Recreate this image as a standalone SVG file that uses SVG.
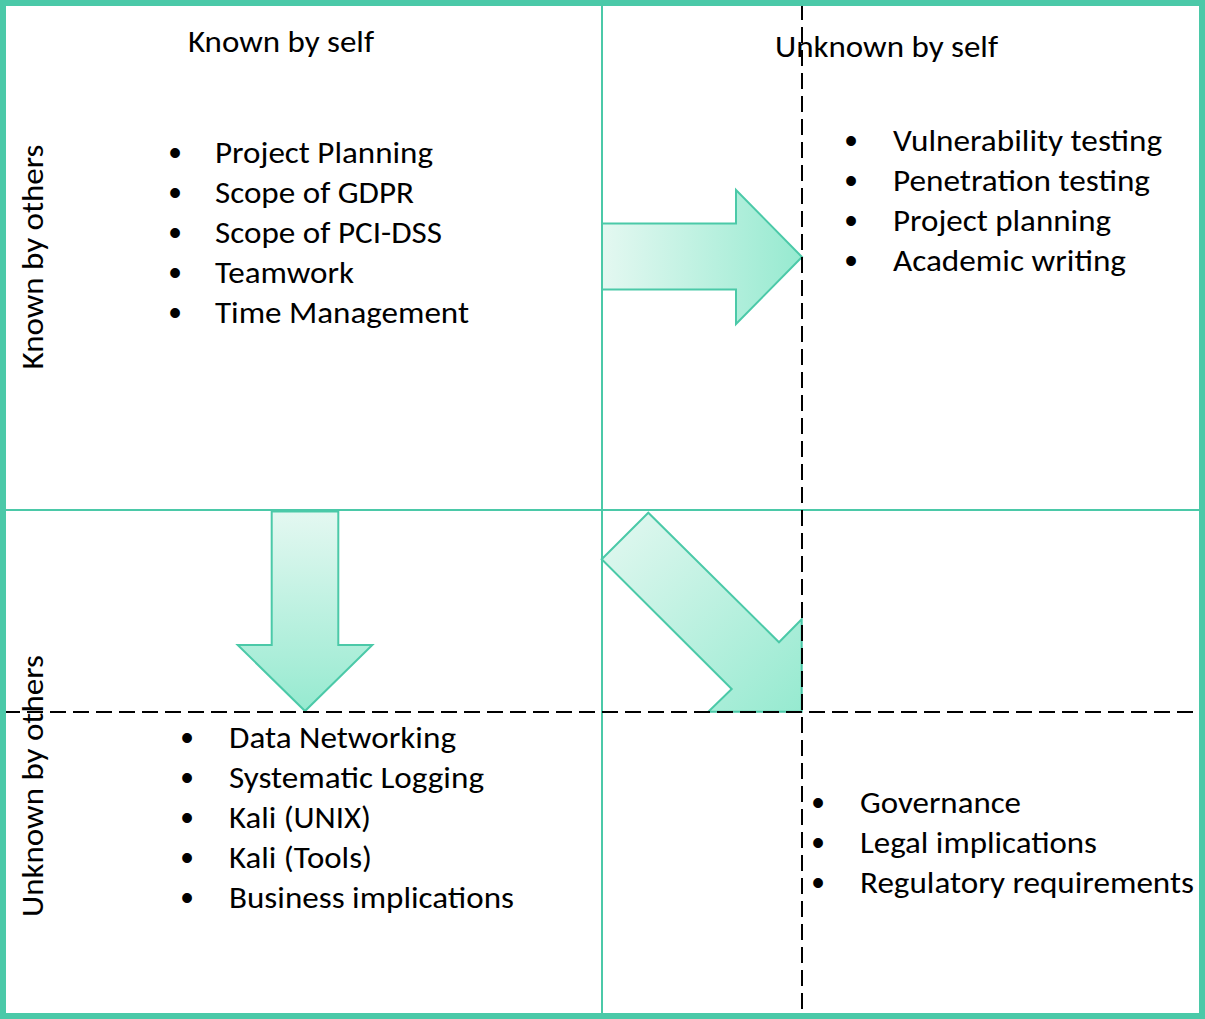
<svg xmlns="http://www.w3.org/2000/svg" width="1205" height="1019" viewBox="0 0 1205 1019">
<style>
.t{font-family:Carlito,Calibri,Lato,"Liberation Sans",sans-serif;font-size:30.5px;fill:#000}
.b{font-family:"Liberation Sans",Arial,sans-serif;font-size:36px;fill:#000;text-anchor:middle}
.grid{stroke:#4bc9a8;stroke-width:2;fill:none}
.dash{stroke:#000;stroke-width:2;stroke-dasharray:16 7;fill:none}
.arrow{stroke:#4bc9a8;stroke-width:2;stroke-linejoin:miter}
</style>
<defs>
<linearGradient id="gH" x1="0" y1="0" x2="1" y2="0"><stop offset="0" stop-color="#e4f8f1"/><stop offset="1" stop-color="#96ead0"/></linearGradient>
<linearGradient id="gV" x1="0" y1="0" x2="0" y2="1"><stop offset="0" stop-color="#e4f8f1"/><stop offset="1" stop-color="#96ead0"/></linearGradient>
<linearGradient id="gD" x1="0" y1="0" x2="1" y2="1"><stop offset="0" stop-color="#e4f8f1"/><stop offset="1" stop-color="#96ead0"/></linearGradient>
</defs>
<rect x="0" y="0" width="1205" height="1019" fill="#fff"/>
<g id="grid">
<line class="grid" x1="602" y1="0" x2="602" y2="1019"/>
<line class="grid" x1="0" y1="510" x2="1205" y2="510"/>
</g>
<g id="connectors">
<polygon class="arrow" fill="url(#gH)" points="602,223.5 736,223.5 736,190 802,257 736,324 736,289.5 602,289.5"/>
<polygon class="arrow" fill="url(#gV)" points="271.7,511.5 338.3,511.5 338.3,645 372.3,645 305,711 237.7,645 271.7,645"/>
<polygon class="arrow" fill="url(#gD)" points="601.7,559.3 648.3,512.7 779,642.3 801.7,619.3 801.7,711.7 708.3,711.7 731.7,689"/>
</g>
<g id="header-known-self"><text class="t" x="188" y="52" textLength="186" lengthAdjust="spacingAndGlyphs">Known by self</text></g>
<g id="header-unknown-self"><text class="t" x="775" y="57" textLength="223" lengthAdjust="spacingAndGlyphs">Unknown by self</text></g>
<g id="label-known-others"><text class="t" transform="translate(43,257) rotate(-90)" x="0" y="0" text-anchor="middle" textLength="225" lengthAdjust="spacingAndGlyphs">Known by others</text></g>
<g id="label-unknown-others"><text class="t" transform="translate(43,786) rotate(-90)" x="0" y="0" text-anchor="middle" textLength="262" lengthAdjust="spacingAndGlyphs">Unknown by others</text></g>
<g id="open-area">
<text class="b" x="175" y="165">•</text><text class="t" x="215" y="163" textLength="218" lengthAdjust="spacingAndGlyphs">Project Planning</text>
<text class="b" x="175" y="205">•</text><text class="t" x="215" y="203" textLength="199" lengthAdjust="spacingAndGlyphs">Scope of GDPR</text>
<text class="b" x="175" y="245">•</text><text class="t" x="215" y="243" textLength="227" lengthAdjust="spacingAndGlyphs">Scope of PCI-DSS</text>
<text class="b" x="175" y="285">•</text><text class="t" x="215" y="283" textLength="139" lengthAdjust="spacingAndGlyphs">Teamwork</text>
<text class="b" x="175" y="325">•</text><text class="t" x="215" y="323" textLength="254" lengthAdjust="spacingAndGlyphs">Time Management</text>
</g>
<g id="blind-area">
<text class="b" x="851" y="153">•</text><text class="t" x="893" y="151" textLength="269" lengthAdjust="spacingAndGlyphs">Vulnerability testing</text>
<text class="b" x="851" y="193">•</text><text class="t" x="893" y="191" textLength="257" lengthAdjust="spacingAndGlyphs">Penetration testing</text>
<text class="b" x="851" y="233">•</text><text class="t" x="893" y="231" textLength="218" lengthAdjust="spacingAndGlyphs">Project planning</text>
<text class="b" x="851" y="273">•</text><text class="t" x="893" y="271" textLength="233" lengthAdjust="spacingAndGlyphs">Academic writing</text>
</g>
<g id="hidden-area">
<text class="b" x="187" y="750">•</text><text class="t" x="229" y="748" textLength="227" lengthAdjust="spacingAndGlyphs">Data Networking</text>
<text class="b" x="187" y="790">•</text><text class="t" x="229" y="788" textLength="255" lengthAdjust="spacingAndGlyphs">Systematic Logging</text>
<text class="b" x="187" y="830">•</text><text class="t" x="229" y="828" textLength="142" lengthAdjust="spacingAndGlyphs">Kali (UNIX)</text>
<text class="b" x="187" y="870">•</text><text class="t" x="229" y="868" textLength="143" lengthAdjust="spacingAndGlyphs">Kali (Tools)</text>
<text class="b" x="187" y="910">•</text><text class="t" x="229" y="908" textLength="285" lengthAdjust="spacingAndGlyphs">Business implications</text>
</g>
<g id="unknown-area">
<text class="b" x="818" y="815">•</text><text class="t" x="860" y="813" textLength="161" lengthAdjust="spacingAndGlyphs">Governance</text>
<text class="b" x="818" y="855">•</text><text class="t" x="860" y="853" textLength="237" lengthAdjust="spacingAndGlyphs">Legal implications</text>
<text class="b" x="818" y="895">•</text><text class="t" x="860" y="893" textLength="334" lengthAdjust="spacingAndGlyphs">Regulatory requirements</text>
</g>
<g id="dividers">
<line class="dash" x1="802" y1="4" x2="802" y2="1015"/>
<line class="dash" x1="4" y1="712" x2="1205" y2="712"/>
</g>
<rect x="3" y="3" width="1199" height="1013" fill="none" stroke="#4bc9a8" stroke-width="6"/>
</svg>
